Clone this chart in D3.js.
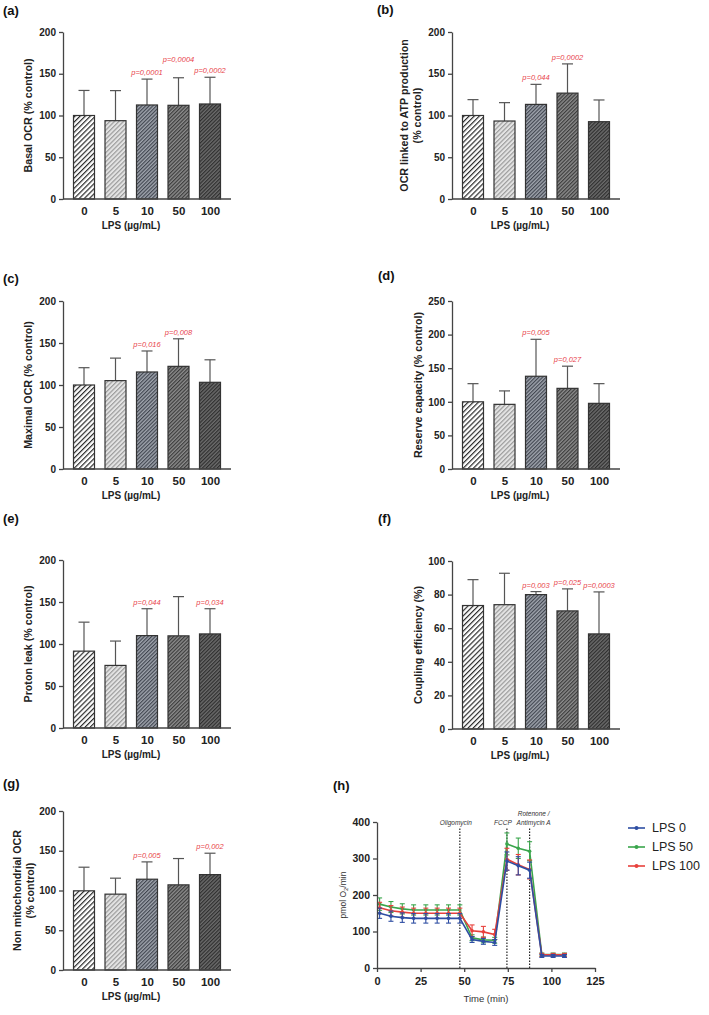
<!DOCTYPE html>
<html lang="en">
<head>
  <meta charset="UTF-8">
  <title>Mitochondrial respiration - LPS</title>
  <script src="https://d3js.org/d3.v7.min.js"></script>
  <style>
    body {
      margin: 0;
      background: #fff;
      font-family: Arial, "Liberation Sans", sans-serif;
    }
    svg text { font-family: Arial, "Liberation Sans", sans-serif; }
  </style>
</head>
<body>
  <div id="chart"></div>
  <script>
    // LPS doses (µg/mL)
    const doses = ["0", "5", "10", "50", "100"];

    // mean and SD, % control unless stated
    const basalMean = [100, 93.8, 112.6, 112.2, 113.8];
    const basalSD   = [30, 36, 31, 33, 32];
    const basalP    = [null, null, "p=0,0001", "p=0,0004", "p=0,0002"];

    const atpMean = [100, 93.4, 113.3, 126.8, 92.6];
    const atpSD   = [19, 22, 24, 35, 26];
    const atpP    = [null, null, "p=0,044", "p=0,0002", null];

    const maxMean = [100, 105.2, 115.5, 122.2, 103.2];
    const maxSD   = [20.6, 26.8, 25, 32.8, 26.8];
    const maxP    = [null, null, "p=0,016", "p=0,008", null];

    const reserveMean = [100, 96.2, 138, 120, 97.7];
    const reserveSD   = [27, 20, 55, 33, 29.3];
    const reserveP    = [null, null, "p=0,005", "p=0,027", null];

    const leakMean = [91.5, 74.5, 110, 109.7, 112];
    const leakSD   = [34.5, 29, 32, 46.7, 30];
    const leakP    = [null, null, "p=0,044", null, "p=0,034"];

    const couplingMean = [73.5, 74, 80, 70.3, 56.6];   // %
    const couplingSD   = [15.4, 18.7, 1.8, 13.1, 25];
    const couplingP    = [null, null, "p=0,003", "p=0,025", "p=0,0003"];

    const nonMitoMean = [99.6, 95.4, 114.2, 107.1, 120];
    const nonMitoSD   = [29.7, 20.1, 21.8, 33.1, 26.9];
    const nonMitoP    = [null, null, "p=0,005", null, "p=0,002"];

    // Seahorse trace (h)
    const times  = [1.5, 8, 14.5, 21, 28, 34.5, 41, 47.5, 54.5, 61, 67.5, 74.5, 81, 87.5, 94.5, 101, 107.5];
    const lps0   = [150, 142, 138, 136, 136, 136, 136, 136, 78, 73, 70, 293, 280, 268, 33, 33, 33];
    const lps0SD = [14, 14, 13, 13, 13, 13, 13, 13, 8, 8, 8, 25, 25, 22, 4, 4, 4];
    const lps50   = [175, 167, 162, 159, 159, 159, 159, 159, 83, 77, 76, 340, 328, 320, 37, 37, 37];
    const lps50SD = [17, 15, 14, 14, 14, 14, 14, 14, 8, 8, 8, 30, 28, 26, 4, 4, 4];
    const lps100   = [165, 157, 153, 150, 150, 150, 150, 150, 102, 99, 92, 298, 283, 270, 36, 36, 36];
    const lps100SD = [15, 14, 14, 14, 14, 14, 14, 14, 16, 15, 14, 30, 28, 26, 4, 4, 4];
    const injections = [
      { t: 47.5, label: ["Oligomycin"] },
      { t: 74.5, label: ["FCCP"] },
      { t: 87.5, label: ["Rotenone /", "Antimycin A"] }
    ];

    const svg = d3.select("#chart").append("svg")
      .attr("width", 709)
      .attr("height", 1015);

    const defs = svg.append("defs");

    // hatch fills, one per dose
    const hatches = [
      { bg: "#ffffff", line: "#2a2a2a", gap: 3.6, w: 1.2 },
      { bg: "#e4e4e4", line: "#9c9c9c", gap: 3.2, w: 1.2 },
      { bg: "#a0a5ae", line: "#3b404a", gap: 2.6, w: 1.1 },
      { bg: "#8c8c8c", line: "#363636", gap: 2.6, w: 1.1 },
      { bg: "#6c6c6c", line: "#2a2a2a", gap: 2.6, w: 1.1 }
    ];
    hatches.forEach((h, i) => {
      const p = defs.append("pattern")
        .attr("id", "hatch" + i)
        .attr("patternUnits", "userSpaceOnUse")
        .attr("width", h.gap)
        .attr("height", h.gap)
        .attr("patternTransform", "rotate(45)");
      p.append("rect").attr("width", h.gap).attr("height", h.gap).attr("fill", h.bg);
      p.append("line")
        .attr("x1", 0.6).attr("y1", 0).attr("x2", 0.6).attr("y2", h.gap)
        .attr("stroke", h.line).attr("stroke-width", h.w);
    });

    const axisColor = "#444";
    const pColor = "#e8434a";

    function styleAxis(g) {
      g.selectAll("path, line").attr("stroke", axisColor).attr("stroke-width", 1.3);
      g.selectAll("text").attr("fill", "#222").attr("font-weight", "bold");
    }

    function barPanel(cfg) {
      const W = 168;
      const g = svg.append("g").attr("transform", `translate(${cfg.x},0)`);

      const x = d3.scalePoint().domain(doses).range([21, 147]);
      const y = d3.scaleLinear().domain([0, cfg.max]).range([cfg.bottom, cfg.top]);
      const barW = 21;

      const rows = doses.map((d, i) => ({
        dose: d, i, mean: cfg.mean[i], sd: cfg.sd[i], p: cfg.p[i]
      }));

      // error whiskers (upper only)
      g.selectAll("line.err").data(rows).enter().append("line")
        .attr("x1", d => x(d.dose)).attr("x2", d => x(d.dose))
        .attr("y1", d => y(d.mean)).attr("y2", d => y(d.mean + d.sd))
        .attr("stroke", "#555").attr("stroke-width", 1.2);
      g.selectAll("line.cap").data(rows).enter().append("line")
        .attr("x1", d => x(d.dose) - 5.5).attr("x2", d => x(d.dose) + 5.5)
        .attr("y1", d => y(d.mean + d.sd)).attr("y2", d => y(d.mean + d.sd))
        .attr("stroke", "#555").attr("stroke-width", 1.2);

      g.selectAll("rect.bar").data(rows).enter().append("rect")
        .attr("x", d => x(d.dose) - barW / 2)
        .attr("y", d => y(d.mean))
        .attr("width", barW)
        .attr("height", d => cfg.bottom - y(d.mean))
        .attr("fill", d => `url(#hatch${d.i})`)
        .attr("stroke", "#333")
        .attr("stroke-width", 1.2);

      g.selectAll("text.p").data(rows.filter(d => d.p)).enter().append("text")
        .attr("x", d => x(d.dose))
        .attr("y", d => y(d.mean + d.sd) - 4 - (cfg.raise && cfg.raise.includes(d.i) ? 12 : 0))
        .attr("text-anchor", "middle")
        .attr("font-size", 7.5)
        .attr("font-style", "italic")
        .attr("fill", pColor)
        .text(d => d.p);

      // y axis
      const ya = g.append("g")
        .call(d3.axisLeft(y).tickValues(d3.range(0, cfg.max + 1, cfg.step))
          .tickSize(4).tickSizeOuter(0).tickPadding(3))
        .attr("font-size", 10);
      styleAxis(ya);

      // x axis: plain line, labels without ticks
      g.append("line").attr("x1", 0).attr("x2", W)
        .attr("y1", cfg.bottom).attr("y2", cfg.bottom)
        .attr("stroke", axisColor).attr("stroke-width", 1.3);
      const xa = g.append("g")
        .attr("transform", `translate(0,${cfg.bottom})`)
        .call(d3.axisBottom(x).tickSize(0).tickPadding(8))
        .attr("font-size", 11.5);
      xa.select(".domain").remove();
      styleAxis(xa);

      g.append("text")
        .attr("x", 68).attr("y", cfg.bottom + 30)
        .attr("text-anchor", "middle")
        .attr("font-size", 10).attr("font-weight", "bold").attr("fill", "#222")
        .text("LPS (µg/mL)");

      // y label (rotated, possibly two lines)
      const cy = (cfg.top + cfg.bottom) / 2;
      cfg.ylabel.forEach((t, k) => {
        g.append("text")
          .attr("transform", `translate(${cfg.ylx[k]},${cy}) rotate(-90)`)
          .attr("text-anchor", "middle")
          .attr("dy", "0.35em")
          .attr("font-size", 10.7).attr("font-weight", "bold").attr("fill", "#222")
          .text(t);
      });

      svg.append("text")
        .attr("x", cfg.lx).attr("y", cfg.ly)
        .attr("font-size", 13).attr("font-weight", "bold").attr("fill", "#111")
        .text(cfg.tag);
    }

    barPanel({ tag: "(a)", lx: 3, ly: 15, x: 63, top: 32, bottom: 199, max: 200, step: 50,
      mean: basalMean, sd: basalSD, p: basalP, raise: [3],
      ylabel: ["Basal OCR (% control)"], ylx: [-35] });
    barPanel({ tag: "(b)", lx: 377, ly: 14, x: 452, top: 32, bottom: 199, max: 200, step: 50,
      mean: atpMean, sd: atpSD, p: atpP,
      ylabel: ["OCR linked to ATP production", "(% control)"], ylx: [-48, -35] });
    barPanel({ tag: "(c)", lx: 3, ly: 283, x: 63, top: 301, bottom: 469, max: 200, step: 50,
      mean: maxMean, sd: maxSD, p: maxP,
      ylabel: ["Maximal OCR (% control)"], ylx: [-35] });
    barPanel({ tag: "(d)", lx: 378, ly: 280, x: 452, top: 301, bottom: 469, max: 250, step: 50,
      mean: reserveMean, sd: reserveSD, p: reserveP,
      ylabel: ["Reserve capacity (% control)"], ylx: [-34] });
    barPanel({ tag: "(e)", lx: 3, ly: 523, x: 63, top: 560, bottom: 728, max: 200, step: 50,
      mean: leakMean, sd: leakSD, p: leakP,
      ylabel: ["Proton leak (% control)"], ylx: [-35] });
    barPanel({ tag: "(f)", lx: 378, ly: 523, x: 452, top: 561, bottom: 729, max: 100, step: 20,
      mean: couplingMean, sd: couplingSD, p: couplingP,
      ylabel: ["Coupling efficiency (%)"], ylx: [-34] });
    barPanel({ tag: "(g)", lx: 3, ly: 788, x: 63, top: 811, bottom: 970, max: 200, step: 50,
      mean: nonMitoMean, sd: nonMitoSD, p: nonMitoP,
      ylabel: ["Non mitochondrial OCR", "(% control)"], ylx: [-46, -33] });

    // ---- (h) OCR trace ----
    const hx = d3.scaleLinear().domain([0, 125]).range([377, 595]);
    const hy = d3.scaleLinear().domain([0, 400]).range([968, 822]);
    const h = svg.append("g");

    svg.append("text").attr("x", 333).attr("y", 790)
      .attr("font-size", 13).attr("font-weight", "bold").attr("fill", "#111")
      .text("(h)");

    injections.forEach(inj => {
      h.append("line")
        .attr("x1", hx(inj.t)).attr("x2", hx(inj.t))
        .attr("y1", hy(0)).attr("y2", hy(385))
        .attr("stroke", "#222").attr("stroke-width", 1.2)
        .attr("stroke-dasharray", "1.5,1.5");
      inj.label.forEach((t, k) => {
        h.append("text")
          .attr("x", hx(inj.t) + (inj.label.length > 1 ? 4 : -4))
          .attr("y", 825 - (inj.label.length - 1 - k) * 9)
          .attr("text-anchor", "middle")
          .attr("font-size", 6.5).attr("font-style", "italic").attr("fill", "#333")
          .text(t);
      });
    });

    const series = [
      { name: "LPS 0", v: lps0, sd: lps0SD, color: "#2e4ea3" },
      { name: "LPS 50", v: lps50, sd: lps50SD, color: "#3aa64c" },
      { name: "LPS 100", v: lps100, sd: lps100SD, color: "#e8413c" }
    ];
    const drawOrder = [1, 2, 0];
    const line = d3.line().x(d => hx(d.t)).y(d => hy(d.v));

    drawOrder.forEach(si => {
      const s = series[si];
      const pts = times.map((t, i) => ({ t, v: s.v[i], sd: s.sd[i] }));
      const sg = h.append("g");
      sg.selectAll("line.eb").data(pts).enter().append("line")
        .attr("x1", d => hx(d.t)).attr("x2", d => hx(d.t))
        .attr("y1", d => hy(d.v - d.sd)).attr("y2", d => hy(d.v + d.sd))
        .attr("stroke", s.color).attr("stroke-width", 1.1);
      [-1, 1].forEach(sign => {
        sg.selectAll(null).data(pts).enter().append("line")
          .attr("x1", d => hx(d.t) - 2.5).attr("x2", d => hx(d.t) + 2.5)
          .attr("y1", d => hy(d.v + sign * d.sd)).attr("y2", d => hy(d.v + sign * d.sd))
          .attr("stroke", s.color).attr("stroke-width", 1.1);
      });
      sg.append("path").datum(pts)
        .attr("d", line).attr("fill", "none")
        .attr("stroke", s.color).attr("stroke-width", 1.6);
      sg.selectAll("circle").data(pts).enter().append("circle")
        .attr("cx", d => hx(d.t)).attr("cy", d => hy(d.v)).attr("r", 1.8)
        .attr("fill", s.color);
    });

    const hya = h.append("g").attr("transform", `translate(${hx(0)},0)`)
      .call(d3.axisLeft(hy).tickValues([0, 100, 200, 300, 400]).tickSize(4).tickSizeOuter(0).tickPadding(3))
      .attr("font-size", 10.5);
    styleAxis(hya);
    const hxa = h.append("g").attr("transform", `translate(0,${hy(0)})`)
      .call(d3.axisBottom(hx).tickValues([0, 25, 50, 75, 100, 125]).tickSize(4).tickSizeOuter(0).tickPadding(5))
      .attr("font-size", 11);
    styleAxis(hxa);

    h.append("text")
      .attr("x", 486).attr("y", 1002)
      .attr("text-anchor", "middle")
      .attr("font-size", 9.5).attr("fill", "#333")
      .text("Time (min)");

    const yl = h.append("text")
      .attr("transform", `translate(343,${hy(200)}) rotate(-90)`)
      .attr("text-anchor", "middle")
      .attr("dy", "0.35em")
      .attr("font-size", 8.5).attr("fill", "#333");
    yl.append("tspan").text("pmol O");
    yl.append("tspan").attr("font-size", 6).attr("dy", "2").text("2");
    yl.append("tspan").attr("dy", "-2").text("/min");

    // legend
    const lg = h.selectAll("g.leg").data(series).enter().append("g")
      .attr("transform", (d, i) => `translate(628,${828 + i * 19})`);
    lg.append("line").attr("x1", 0).attr("x2", 17)
      .attr("stroke", d => d.color).attr("stroke-width", 1.6);
    lg.append("circle").attr("cx", 8.5).attr("r", 2).attr("fill", d => d.color);
    lg.append("text").attr("x", 24).attr("dy", "0.35em")
      .attr("font-size", 12.5).attr("fill", "#222")
      .text(d => d.name);
  </script>
</body>
</html>
